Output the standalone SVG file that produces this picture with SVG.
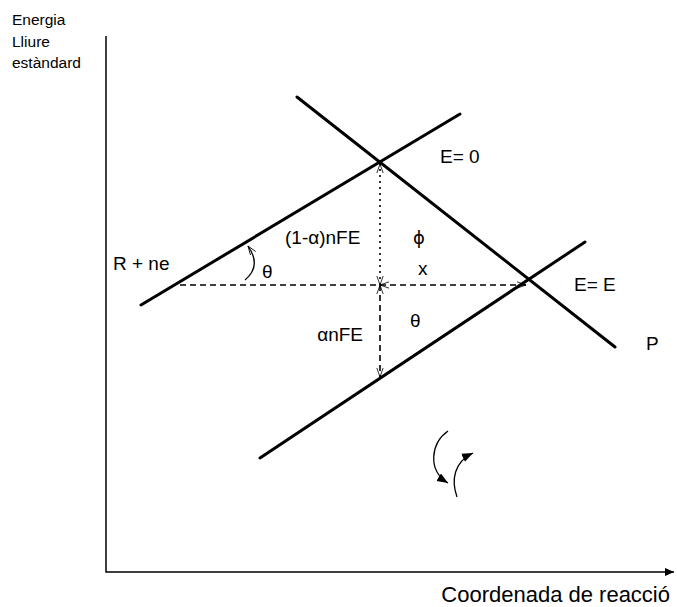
<svg xmlns="http://www.w3.org/2000/svg" width="677" height="607" viewBox="0 0 677 607">
<style>
text{font-family:"Liberation Sans",Arial,sans-serif;fill:#000}
.lbl{font-size:19px}
.ax{font-size:15.5px}
.thick{stroke:#000;stroke-width:3;fill:none;stroke-linecap:round}
.axis{stroke:#000;stroke-width:1.5;fill:none}
.dash{stroke:#000;stroke-width:1.6;fill:none;stroke-dasharray:6,4}
.dot{stroke:#000;stroke-width:1.6;fill:none;stroke-dasharray:2,4}
.thin{stroke:#000;stroke-width:1.3;fill:none}
</style>
<defs>
<marker id="open" viewBox="0 0 10 10" refX="10" refY="5" markerWidth="9" markerHeight="9" orient="auto-start-reverse" markerUnits="userSpaceOnUse">
<path d="M0,1.5 L10,5 L0,8.5" fill="none" stroke="#000" stroke-width="0.9"/>
</marker>
<marker id="fill" viewBox="0 0 10 10" refX="10" refY="5" markerWidth="11" markerHeight="11" orient="auto" markerUnits="userSpaceOnUse">
<path d="M0,1 L10,5 L0,9 Z" fill="#000"/>
</marker>
<marker id="axisArrow" viewBox="0 0 10 10" refX="10" refY="5" markerWidth="9" markerHeight="9" orient="auto" markerUnits="userSpaceOnUse">
<path d="M0,0.5 L10,5 L0,9.5 Z" fill="#000"/>
</marker>
</defs>
<g id="axes">
<path class="axis" d="M106,36 L106,572 L674,572" marker-end="url(#axisArrow)"/>
</g>
<g id="y-label">
<text class="ax" x="12" y="25">Energia</text>
<text class="ax" x="12" y="47">Lliure</text>
<text class="ax" x="12" y="68">estàndard</text>
</g>
<g id="x-label">
<text x="670" y="602" text-anchor="end" style="font-size:22px">Coordenada de reacció</text>
</g>
<g id="connectors">
<line id="curve-R" class="thick" x1="141" y1="305" x2="460" y2="114"/>
<line id="curve-P" class="thick" x1="297" y1="97" x2="615" y2="347"/>
<line id="curve-R-shifted" class="thick" x1="260" y1="458" x2="585" y2="242"/>
<line class="dash" x1="180" y1="285" x2="380" y2="285"/>
<line class="dash" x1="380" y1="285" x2="526" y2="285" marker-start="url(#open)" marker-end="url(#open)"/>
<line class="dot" x1="380" y1="285" x2="380" y2="164" marker-start="url(#open)" marker-end="url(#open)"/>
<line class="dash" x1="380" y1="285" x2="380" y2="377" marker-start="url(#open)" marker-end="url(#open)"/>
<path class="thin" d="M245,280 Q262,266 248,246" marker-end="url(#open)"/>
<path class="thin" d="M448,431 C431,443 427,470 448,483" marker-end="url(#fill)"/>
<path class="thin" d="M457,497 C451,480 454,462 473,453" marker-end="url(#fill)"/>
</g>
<g id="labels">
<text class="lbl" x="113" y="270">R + ne</text>
<text class="lbl" x="440" y="163">E= 0</text>
<text class="lbl" x="574" y="291">E= E</text>
<text class="lbl" x="646" y="350">P</text>
<text class="lbl" x="285" y="244">(1-α)nFE</text>
<text class="lbl" x="363" y="341" text-anchor="end">αnFE</text>
<text class="lbl" x="262" y="278">θ</text>
<text class="lbl" x="410" y="327">θ</text>
<text class="lbl" x="413" y="244" style="font-family:'DejaVu Sans',sans-serif;font-size:18px">ϕ</text>
<text class="lbl" x="418" y="275">x</text>
</g>
</svg>
